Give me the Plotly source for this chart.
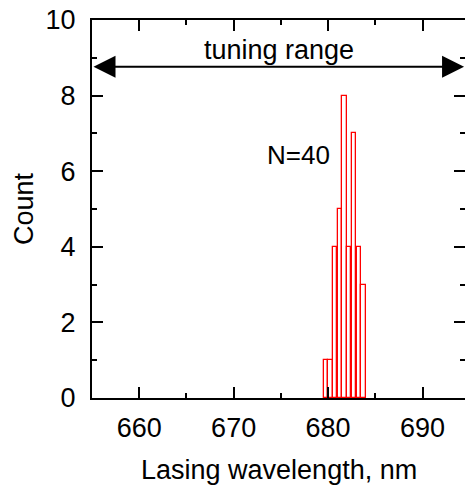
import plotly.graph_objects as go

# histogram of lasing wavelengths (0.5 nm bins)
bin_centers = [679.75, 680.25, 680.75, 681.25, 681.75, 682.25, 682.75, 683.25, 683.75]
counts = [1, 1, 4, 5, 8, 4, 7, 4, 3]
bin_width = 0.5

x_range = [655, 694.5]
y_range = [0, 10]
x_ticks = [660, 670, 680, 690]
y_ticks = [0, 2, 4, 6, 8, 10]

font = "Arial, Liberation Sans, sans-serif"

fig = go.Figure()

fig.add_trace(go.Bar(
    x=bin_centers,
    y=counts,
    width=bin_width * 0.9,
    marker=dict(color="white", line=dict(color="rgb(255,0,0)", width=1.3)),
    showlegend=False,
))

# dummy trace so the mirrored axes get drawn
fig.add_trace(go.Scatter(x=[], y=[], xaxis="x2", yaxis="y2", showlegend=False))

axis_common = dict(
    ticks="inside", tickwidth=2, ticklen=11, tickcolor="black",
    showgrid=False, zeroline=False, automargin=False,
    linecolor="black", linewidth=2,
)

fig.update_layout(
    width=465, height=486,
    margin=dict(l=92, r=0, t=20, b=88),
    plot_bgcolor="white", paper_bgcolor="white",
    font=dict(family=font, color="black"),
    bargap=0,
    xaxis=dict(
        range=x_range, tickvals=x_ticks, showline=True,
        minor=dict(dtick=5, tick0=655, ticks="inside", ticklen=5, tickwidth=2, tickcolor="black"),
        tickfont=dict(size=27), ticklabelstandoff=5,
        **axis_common,
    ),
    yaxis=dict(
        range=y_range, tickvals=y_ticks, showline=True,
        minor=dict(dtick=1, tick0=0, ticks="inside", ticklen=5, tickwidth=2, tickcolor="black"),
        tickfont=dict(size=27), ticklabelstandoff=9,
        **axis_common,
    ),
    xaxis2=dict(
        range=x_range, overlaying="x", side="top", anchor="y", tickvals=x_ticks,
        showline=True, showticklabels=False,
        minor=dict(dtick=5, tick0=655, ticks="inside", ticklen=5, tickwidth=2, tickcolor="black"),
        **axis_common,
    ),
    yaxis2=dict(
        range=y_range, overlaying="y", side="right", anchor="x", tickvals=y_ticks,
        showline=False, showticklabels=False,
        minor=dict(dtick=1, tick0=0, ticks="inside", ticklen=5, tickwidth=2, tickcolor="black"),
        **axis_common,
    ),
)

# axis titles
fig.add_annotation(
    x=0.5, y=0, xref="paper", yref="paper", yanchor="middle", yshift=-72,
    text="Lasing wavelength, nm", showarrow=False, font=dict(size=27),
)
fig.add_annotation(
    x=0, y=0.5, xref="paper", yref="paper", xanchor="center", xshift=-68,
    text="Count", textangle=-90, showarrow=False, font=dict(size=27),
)

# tuning range double arrow
fig.add_annotation(
    x=694.4, y=8.76, ax=655.0, ay=8.76, xref="x", yref="y", axref="x", ayref="y",
    text="", showarrow=True, arrowhead=2, startarrowhead=2, arrowside="end+start",
    arrowsize=2.2, startarrowsize=2.2, arrowwidth=2, arrowcolor="black",
)
fig.add_annotation(
    x=674.8, y=9.2, xref="x", yref="y", text="tuning range", showarrow=False,
    font=dict(size=27),
)
fig.add_annotation(
    x=676.9, y=6.42, xref="x", yref="y", text="N=40", showarrow=False,
    font=dict(size=26),
)

# drop the default 8px body margin so the figure fills the window
fig.write_html(
    "out.html",
    config={"displayModeBar": False},
    post_script="document.body.style.margin='0';",
)
